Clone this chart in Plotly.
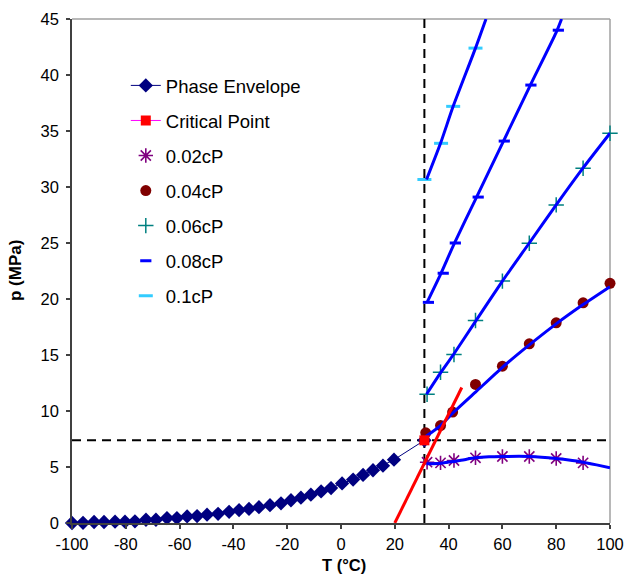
import plotly.graph_objects as go

# CO2 phase envelope (vapour pressure curve)
env_T = [-100.0, -95.9, -91.8, -88.1, -84.0, -80.3, -76.6, -72.5, -68.8, -64.7, -61.0,
         -57.2, -53.5, -49.8, -45.7, -41.6, -37.9, -34.2, -30.5, -26.4, -22.3, -18.6,
         -14.9, -11.2, -7.4, -3.7, 0.4, 4.5, 8.2, 11.9, 15.6, 19.7, 31.0]
env_p = [0.0, 0.02, 0.09, 0.09, 0.12, 0.12, 0.15, 0.29, 0.29, 0.44, 0.44,
         0.59, 0.62, 0.74, 0.82, 1.0, 1.15, 1.26, 1.41, 1.59, 1.76, 2.03,
         2.26, 2.53, 2.82, 3.12, 3.53, 3.88, 4.29, 4.71, 5.12, 5.65, 7.38]

# critical point
crit_T = [31.0]
crit_p = [7.38]

# straight red line
red_T = [20.0, 44.9]
red_p = [0.0, 12.1]

# iso-viscosity data points
v002_T = [32, 37, 42, 50, 60, 70, 80, 90]
v002_p = [5.43, 5.37, 5.58, 5.82, 5.94, 5.94, 5.76, 5.37]
v004_T = [31.5, 37, 41.5, 50, 60, 70, 80, 90, 100]
v004_p = [8.05, 8.7, 9.9, 12.37, 14.0, 16.0, 17.87, 19.66, 21.4]
v006_T = [32, 37, 42, 50, 60, 70, 80, 90, 100]
v006_p = [11.5, 13.46, 15.04, 18.08, 21.6, 24.98, 28.4, 31.68, 34.8]
v008_T = [32.5, 38, 42.5, 51, 60.7, 70.6, 80.8]
v008_p = [19.7, 22.3, 25.0, 29.1, 34.1, 39.1, 44.0]
v010_T = [31.0, 37.2, 41.7, 50]
v010_p = [30.67, 33.9, 37.2, 42.4]

# iso-viscosity model curves
c002_T = [31.8, 37, 41.7, 46.7, 50, 55, 60, 70, 80, 84, 90, 95, 100]
c002_p = [5.28, 5.34, 5.49, 5.70, 5.82, 5.91, 5.94, 5.94, 5.76, 5.64, 5.43, 5.19, 4.93]
c004_T = [31.5, 37, 41.5, 50, 60, 70, 80, 90, 100]
c004_p = [7.72, 8.7, 9.8, 11.68, 13.9, 15.9, 17.78, 19.5, 21.1]
c006_T = [31.8, 37, 41.7, 50, 60, 70, 80, 90, 100]
c006_p = [11.5, 13.4, 15.0, 18.0, 21.6, 25.0, 28.4, 31.7, 34.8]
c008_T = [32, 37, 42, 50, 60, 70, 80, 82]
c008_p = [19.7, 22.2, 24.9, 28.9, 33.9, 38.9, 43.8, 45.0]
c010_T = [31.8, 37, 41.7, 50, 53.9]
c010_p = [30.67, 33.9, 37.2, 42.4, 45.0]

# axes
x_range = [-100, 100]
y_range = [0, 45]
x_ticks = [-100, -80, -60, -40, -20, 0, 20, 40, 60, 80, 100]
x_tick_labels = ["-100", "-80", "-60", "-40", "-20", "0", "20", "40", "60", "80", "100"]
y_ticks = [0, 5, 10, 15, 20, 25, 30, 35, 40, 45]
y_tick_labels = ["0", "5", "10", "15", "20", "25", "30", "35", "40", "45"]
x_title = "T (°C)"
y_title = "p (MPa)"

FONT = "Arial, Liberation Sans, sans-serif"

fig = go.Figure()

# dashed guides through the critical point
dash_style = dict(color="black", width=2, dash="9px,6px")
fig.add_trace(go.Scatter(x=x_range, y=[crit_p[0]] * 2, mode="lines", line=dash_style,
                         showlegend=False, hoverinfo="skip"))
fig.add_trace(go.Scatter(x=[crit_T[0]] * 2, y=y_range, mode="lines", line=dash_style,
                         showlegend=False, hoverinfo="skip"))

# phase envelope and critical point (legend order)
fig.add_trace(go.Scatter(x=env_T, y=env_p, mode="lines+markers", name="Phase Envelope",
                         legendgroup="g1", cliponaxis=False,
                         line=dict(color="#000080", width=1),
                         marker=dict(symbol="diamond", size=11, color="#000080")))
fig.add_trace(go.Scatter(x=[None], y=[None], mode="lines+markers", name="Critical Point",
                         legendgroup="g2",
                         line=dict(color="#FF00FF", width=1),
                         marker=dict(symbol="square", size=10, color="#FF0000")))

marker_sets = [
    ("0.02cP", v002_T, v002_p, dict(symbol="asterisk-open", size=12,
                                    line=dict(color="#800080", width=1.6), color="#800080")),
    ("0.04cP", v004_T, v004_p, dict(symbol="circle", size=11, color="#800000")),
    ("0.06cP", v006_T, v006_p, dict(symbol="cross-thin-open", size=11,
                                    line=dict(color="#008080", width=1.5), color="#008080")),
    ("0.08cP", v008_T, v008_p, dict(symbol="line-ew-open", size=8,
                                    line=dict(color="#0000FF", width=3), color="#0000FF")),
    ("0.1cP", v010_T, v010_p, dict(symbol="line-ew-open", size=10,
                                   line=dict(color="#33CCFF", width=3), color="#33CCFF")),
]
for i, (name, tx, py, mk) in enumerate(marker_sets):
    fig.add_trace(go.Scatter(x=tx, y=py, mode="markers", name=name, marker=mk,
                             legendgroup=f"g{i + 3}", cliponaxis=False))

# model curves
for cx, cy in [(c002_T, c002_p), (c004_T, c004_p), (c006_T, c006_p),
               (c008_T, c008_p), (c010_T, c010_p)]:
    fig.add_trace(go.Scatter(x=cx, y=cy, mode="lines", showlegend=False, hoverinfo="skip",
                             line=dict(color="#0000FF", width=3, shape="spline", smoothing=0.6)))

# red line
fig.add_trace(go.Scatter(x=red_T, y=red_p, mode="lines", showlegend=False, hoverinfo="skip",
                         line=dict(color="#FF0000", width=3)))

# critical point marker on top
fig.add_trace(go.Scatter(x=crit_T, y=crit_p, mode="markers", showlegend=False,
                         cliponaxis=False, legendgroup="g2",
                         marker=dict(symbol="square", size=10, color="#FF0000")))

# lighter frame on top and right
fig.add_shape(type="line", xref="paper", yref="paper", x0=0, x1=1, y0=1, y1=1,
              line=dict(color="#A0A0A0", width=1.5), layer="below")
fig.add_shape(type="line", xref="paper", yref="paper", x0=1, x1=1, y0=0, y1=1,
              line=dict(color="#A0A0A0", width=1.5), layer="below")

axis_common = dict(showgrid=False, zeroline=False, showline=True, linecolor="#404040",
                   linewidth=1.5, ticks="outside", ticklen=4, tickcolor="#404040",
                   tickwidth=1.5, automargin=False,
                   tickfont=dict(family=FONT, size=16.5, color="black"))

# axis titles
fig.add_annotation(text=f"<b>{x_title}</b>", xref="paper", yref="paper", x=0.505, y=0,
                   yshift=-42, yanchor="middle", showarrow=False, borderpad=0,
                   font=dict(family=FONT, size=16.5, color="black"))
fig.add_annotation(text=f"<b>{y_title}</b>", xref="paper", yref="paper", x=0, y=0.5,
                   xshift=-57, xanchor="center", textangle=-90, showarrow=False,
                   font=dict(family=FONT, size=17, color="black"))

fig.update_layout(
    width=627, height=575,
    margin=dict(l=72, r=17, t=19, b=52),
    paper_bgcolor="white", plot_bgcolor="white",
    font=dict(family=FONT, color="black"),
    xaxis=dict(range=x_range, tickmode="array", tickvals=x_ticks, ticktext=x_tick_labels,
               ticklabelstandoff=1, **axis_common),
    yaxis=dict(range=y_range, tickmode="array", tickvals=y_ticks, ticktext=y_tick_labels,
               ticklabelstandoff=4, **axis_common),
    legend=dict(x=0.1, y=0.905, xanchor="left", yanchor="top", bgcolor="rgba(0,0,0,0)",
                font=dict(family=FONT, size=18.5, color="black"),
                traceorder="grouped", tracegroupgap=8),
    showlegend=True,
)

fig.write_html("out.html")
